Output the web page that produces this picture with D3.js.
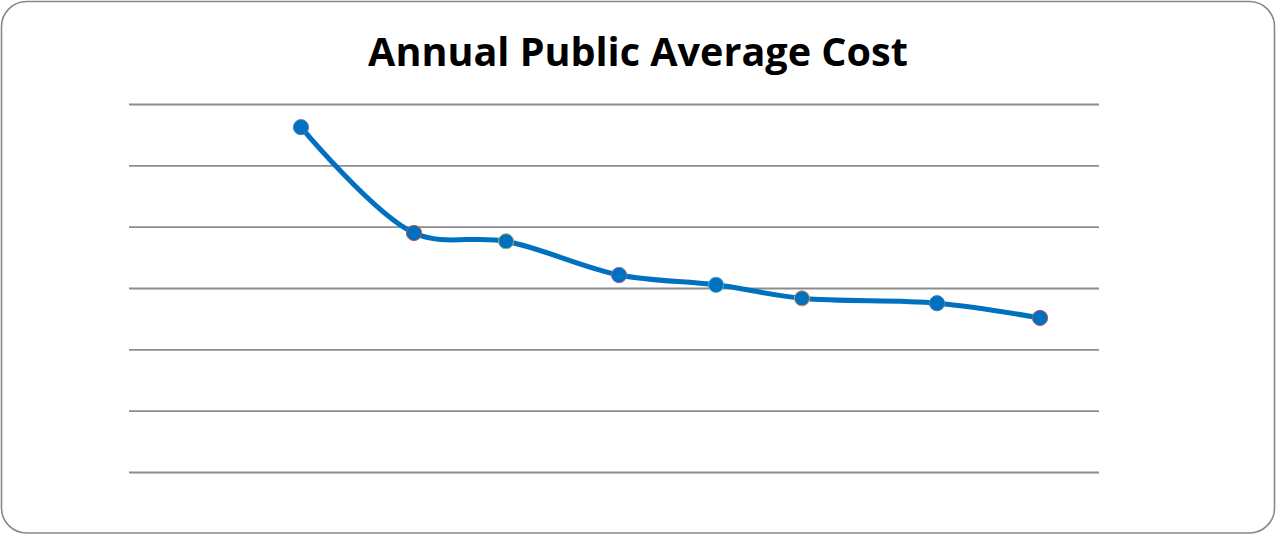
<!DOCTYPE html>
<html><head><meta charset="utf-8">
<script src="https://cdn.jsdelivr.net/npm/d3@7"></script>
<style>body{margin:0;background:#fff}svg{display:block}</style>
</head><body>
<script>
const title = "Annual Public Average Cost";
const xValues = [1.773, 2.938, 3.887, 5.052, 6.052, 6.938, 8.330, 9.392];
const yValues = [5.63, 3.905, 3.77, 3.22, 3.06, 2.84, 2.76, 2.52];
const pointOutlines = ["#4F81BD","#C0504D","#9BBB59","#8064A2","#4BACC6","#F79646","#4F81BD","#C0504D"];
const gridTicks = [0,1,2,3,4,5,6];

const W = 1276, H = 535;
const svg = d3.select("body").append("svg").attr("width", W).attr("height", H);
svg.append("rect").attr("x",1.5).attr("y",1.5).attr("width",W-3).attr("height",H-3.5)
  .attr("rx",25).attr("ry",25).attr("fill","#fff").attr("stroke","#888").attr("stroke-width",1.6);

const x = d3.scaleLinear().domain([0,10]).range([129,1099]);
const y = d3.scaleLinear().domain([0,6]).range([472.5,104.5]);

svg.append("g").selectAll("line").data(gridTicks).join("line")
  .attr("x1", x(0)).attr("x2", x(10)).attr("y1", d=>y(d)).attr("y2", d=>y(d))
  .attr("stroke","#8c8c8c").attr("stroke-width",1.8);

const pts = xValues.map((v,i)=>[v,yValues[i]]);
const line = d3.line().x(d=>x(d[0])).y(d=>y(d[1])).curve(d3.curveCatmullRom.alpha(0.5));
svg.append("path").attr("d", line(pts)).attr("fill","none").attr("stroke","#0070C0")
  .attr("stroke-width",5).attr("stroke-linejoin","round").attr("stroke-linecap","round");

svg.append("g").selectAll("circle").data(pts).join("circle")
  .attr("cx", d=>x(d[0])).attr("cy", d=>y(d[1])).attr("r",7.6)
  .attr("fill","#0070C0").attr("stroke",(d,i)=>pointOutlines[i]).attr("stroke-width",1);

const t = svg.append("text").attr("x",638).attr("y",66).attr("text-anchor","middle")
  .attr("font-family","'Open Sans', 'Liberation Sans', sans-serif").attr("font-weight","bold")
  .attr("font-size",38).attr("fill","#000").text(title);
const len = t.node().getComputedTextLength();
t.attr("font-size", 38 * 540 / len);
</script>
</body></html>
